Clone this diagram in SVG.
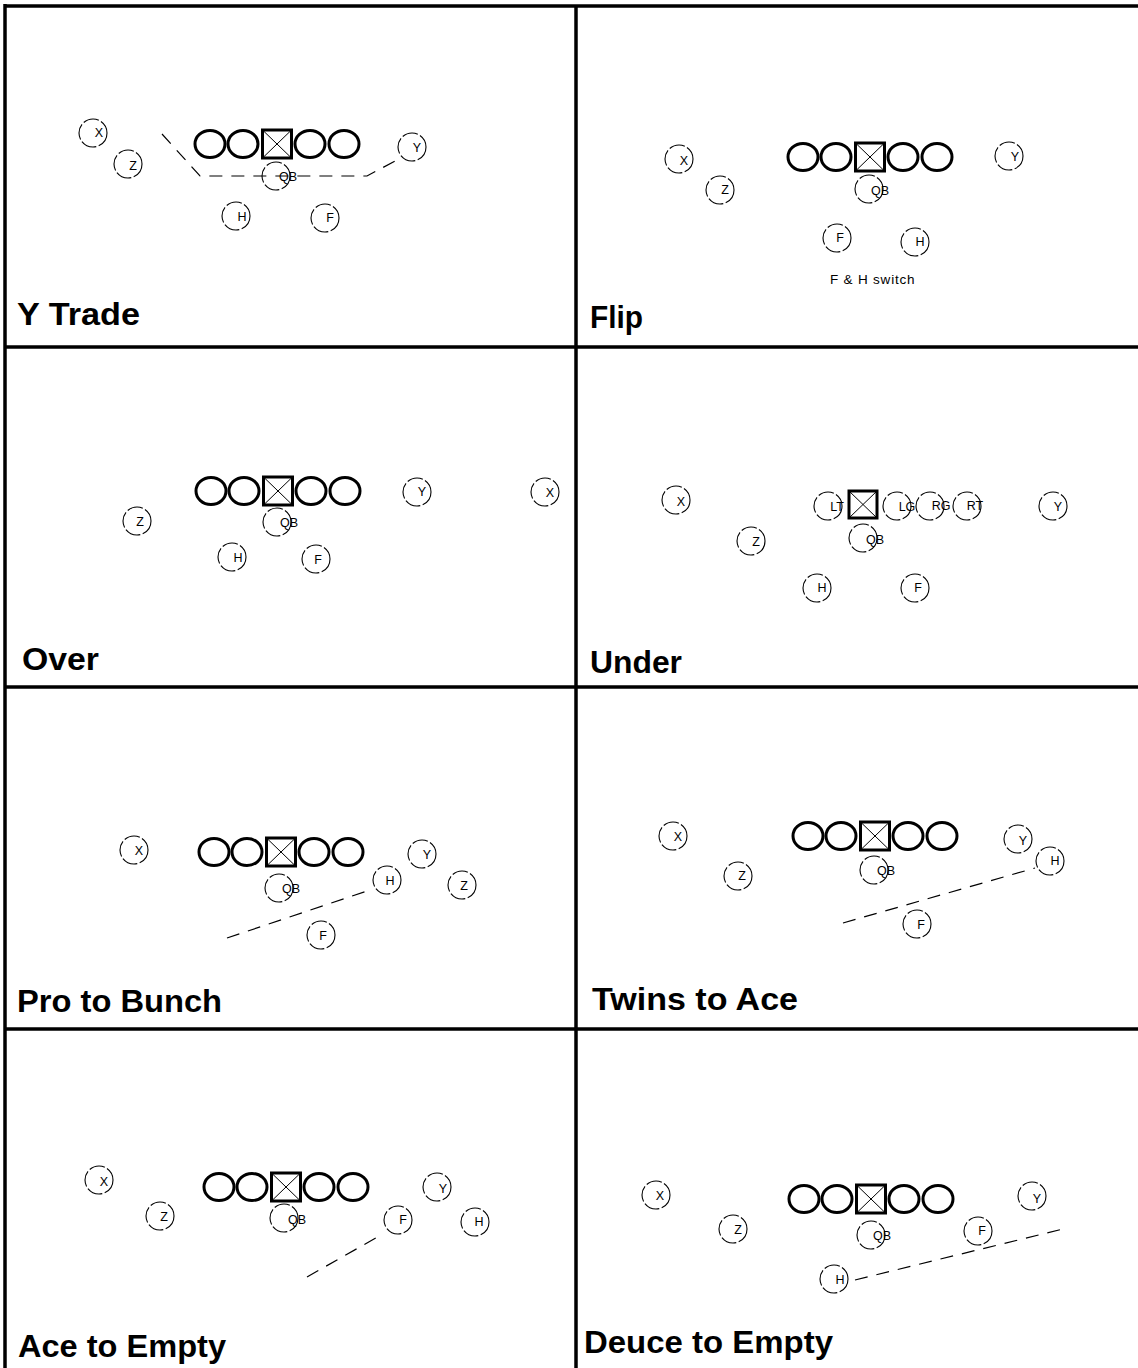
<svg xmlns="http://www.w3.org/2000/svg" width="1138" height="1368" viewBox="0 0 1138 1368">
<style>
.grid{stroke:#000;stroke-width:3.5;fill:none}
.ol{fill:none;stroke:#000;stroke-width:3}
.sq{fill:none;stroke:#000;stroke-width:3}
.sx{stroke:#000;stroke-width:1;fill:none}
.p{fill:none;stroke:#000;stroke-width:1.1;stroke-dasharray:16 2.5}
.t{font-family:"Liberation Sans",Arial,sans-serif;font-size:12.5px;fill:#000;text-anchor:middle;dominant-baseline:central}
.lbl{font-family:"Liberation Sans",Arial,sans-serif;font-size:31px;font-weight:bold;fill:#000}
.note{font-family:"Liberation Sans",Arial,sans-serif;font-size:13.5px;fill:#000;letter-spacing:0.8px}
.route{fill:none;stroke:#000;stroke-width:1.2;stroke-dasharray:13 9}
</style>
<defs>
<g id="line5">
<ellipse class="ol" cx="-67" cy="0" rx="15" ry="13.5"/>
<ellipse class="ol" cx="-34" cy="0" rx="15" ry="13.5"/>
<rect class="sq" x="-14.5" y="-14" width="29" height="28"/>
<path class="sx" d="M-14.5,-14 L14.5,14 M14.5,-14 L-14.5,14"/>
<ellipse class="ol" cx="33" cy="0" rx="15" ry="13.5"/>
<ellipse class="ol" cx="67" cy="0" rx="15" ry="13.5"/>
</g>
</defs>
<rect width="1138" height="1368" fill="#fff"/>
<g id="grid">
<line class="grid" x1="5" y1="6" x2="1138" y2="6" stroke-width="4"/>
<line class="grid" x1="5" y1="4" x2="5" y2="1368"/>
<line class="grid" x1="576" y1="6" x2="576" y2="1368"/>
<line class="grid" x1="5" y1="347" x2="1138" y2="347"/>
<line class="grid" x1="5" y1="687" x2="1138" y2="687"/>
<line class="grid" x1="5" y1="1029" x2="1138" y2="1029"/>
</g>

<g id="connectors">
<polyline class="route" points="162,134 200,176 367,176 397,160"/>
<line class="route" x1="227" y1="938" x2="373" y2="889"/>
<line class="route" x1="843" y1="923" x2="1035" y2="868"/>
<line class="route" x1="307" y1="1277" x2="381" y2="1235"/>
<line class="route" x1="855" y1="1280" x2="1067" y2="1228"/>
</g>

<g id="panel-ytrade">
<g id="yt-line"><use href="#line5" x="277" y="144"/></g>
<g id="yt-x"><circle class="p" cx="93" cy="133" r="14"/><text class="t" x="99" y="133">X</text></g>
<g id="yt-z"><circle class="p" cx="128" cy="164" r="14"/><text class="t" x="133" y="166">Z</text></g>
<g id="yt-qb"><circle class="p" cx="276" cy="176" r="14"/><text class="t" x="288" y="177">QB</text></g>
<g id="yt-h"><circle class="p" cx="236" cy="216" r="14"/><text class="t" x="242" y="217">H</text></g>
<g id="yt-f"><circle class="p" cx="325" cy="218" r="14"/><text class="t" x="330" y="218">F</text></g>
<g id="yt-y"><circle class="p" cx="412" cy="147" r="14"/><text class="t" x="417" y="148">Y</text></g>
<text class="lbl" x="17" y="325" textLength="123" lengthAdjust="spacingAndGlyphs">Y Trade</text>
</g>

<g id="panel-flip">
<g id="fl-line"><use href="#line5" x="870" y="157"/></g>
<g id="fl-x"><circle class="p" cx="679" cy="159" r="14"/><text class="t" x="684" y="161">X</text></g>
<g id="fl-z"><circle class="p" cx="720" cy="190" r="14"/><text class="t" x="725" y="190">Z</text></g>
<g id="fl-qb"><circle class="p" cx="869" cy="189" r="14"/><text class="t" x="880" y="191">QB</text></g>
<g id="fl-f"><circle class="p" cx="837" cy="238" r="14"/><text class="t" x="840" y="238">F</text></g>
<g id="fl-h"><circle class="p" cx="915" cy="242" r="14"/><text class="t" x="920" y="242">H</text></g>
<g id="fl-y"><circle class="p" cx="1009" cy="156" r="14"/><text class="t" x="1015" y="157">Y</text></g>
<text class="note" x="830" y="284">F &amp; H switch</text>
<text class="lbl" x="590" y="328" textLength="53" lengthAdjust="spacingAndGlyphs">Flip</text>
</g>

<g id="panel-over">
<g id="ov-line"><use href="#line5" x="278" y="491"/></g>
<g id="ov-z"><circle class="p" cx="137" cy="521" r="14"/><text class="t" x="140" y="522">Z</text></g>
<g id="ov-qb"><circle class="p" cx="277" cy="522" r="14"/><text class="t" x="289" y="523">QB</text></g>
<g id="ov-h"><circle class="p" cx="232" cy="557" r="14"/><text class="t" x="238" y="558">H</text></g>
<g id="ov-f"><circle class="p" cx="316" cy="559" r="14"/><text class="t" x="318" y="560">F</text></g>
<g id="ov-y"><circle class="p" cx="417" cy="492" r="14"/><text class="t" x="422" y="492">Y</text></g>
<g id="ov-x"><circle class="p" cx="545" cy="492" r="14"/><text class="t" x="550" y="493">X</text></g>
<text class="lbl" x="22" y="670" textLength="77" lengthAdjust="spacingAndGlyphs">Over</text>
</g>

<g id="panel-under">
<g id="un-x"><circle class="p" cx="676" cy="500" r="14"/><text class="t" x="681" y="502">X</text></g>
<g id="un-lt"><circle class="p" cx="828" cy="506" r="14"/><text class="t" x="837" y="507">LT</text></g>
<g id="un-c"><rect class="sq" x="849" y="491" width="28" height="27"/><path class="sx" d="M849,491 L877,518 M877,491 L849,518"/></g>
<g id="un-lg"><circle class="p" cx="897" cy="506" r="14"/><text class="t" x="907" y="507">LG</text></g>
<g id="un-rg"><circle class="p" cx="930" cy="506" r="14"/><text class="t" x="941" y="506">RG</text></g>
<g id="un-rt"><circle class="p" cx="967" cy="506" r="14"/><text class="t" x="975" y="506">RT</text></g>
<g id="un-y"><circle class="p" cx="1053" cy="506" r="14"/><text class="t" x="1058" y="507">Y</text></g>
<g id="un-z"><circle class="p" cx="751" cy="541" r="14"/><text class="t" x="756" y="542">Z</text></g>
<g id="un-qb"><circle class="p" cx="863" cy="538" r="14"/><text class="t" x="875" y="540">QB</text></g>
<g id="un-h"><circle class="p" cx="817" cy="588" r="14"/><text class="t" x="822" y="588">H</text></g>
<g id="un-f"><circle class="p" cx="915" cy="588" r="14"/><text class="t" x="918" y="588">F</text></g>
<text class="lbl" x="590" y="673" textLength="92" lengthAdjust="spacingAndGlyphs">Under</text>
</g>

<g id="panel-pro-bunch">
<g id="pb-line"><use href="#line5" x="281" y="852"/></g>
<g id="pb-x"><circle class="p" cx="134" cy="850" r="14"/><text class="t" x="139" y="851">X</text></g>
<g id="pb-qb"><circle class="p" cx="279" cy="888" r="14"/><text class="t" x="291" y="889">QB</text></g>
<g id="pb-h"><circle class="p" cx="387" cy="880" r="14"/><text class="t" x="390" y="881">H</text></g>
<g id="pb-y"><circle class="p" cx="422" cy="854" r="14"/><text class="t" x="427" y="855">Y</text></g>
<g id="pb-z"><circle class="p" cx="462" cy="885" r="14"/><text class="t" x="464" y="886">Z</text></g>
<g id="pb-f"><circle class="p" cx="321" cy="935" r="14"/><text class="t" x="323" y="936">F</text></g>
<text class="lbl" x="17" y="1012" textLength="205" lengthAdjust="spacingAndGlyphs">Pro to Bunch</text>
</g>

<g id="panel-twins-ace">
<g id="ta-line"><use href="#line5" x="875" y="836"/></g>
<g id="ta-x"><circle class="p" cx="673" cy="836" r="14"/><text class="t" x="678" y="837">X</text></g>
<g id="ta-z"><circle class="p" cx="738" cy="876" r="14"/><text class="t" x="742" y="876">Z</text></g>
<g id="ta-qb"><circle class="p" cx="874" cy="870" r="14"/><text class="t" x="886" y="871">QB</text></g>
<g id="ta-f"><circle class="p" cx="917" cy="924" r="14"/><text class="t" x="921" y="925">F</text></g>
<g id="ta-y"><circle class="p" cx="1018" cy="839" r="14"/><text class="t" x="1023" y="841">Y</text></g>
<g id="ta-h"><circle class="p" cx="1050" cy="861" r="14"/><text class="t" x="1055" y="861">H</text></g>
<text class="lbl" x="592" y="1010" textLength="206" lengthAdjust="spacingAndGlyphs">Twins to Ace</text>
</g>

<g id="panel-ace-empty">
<g id="ae-line"><use href="#line5" x="286" y="1187"/></g>
<g id="ae-x"><circle class="p" cx="99" cy="1180" r="14"/><text class="t" x="104" y="1182">X</text></g>
<g id="ae-z"><circle class="p" cx="160" cy="1216" r="14"/><text class="t" x="164" y="1217">Z</text></g>
<g id="ae-qb"><circle class="p" cx="284" cy="1218" r="14"/><text class="t" x="297" y="1220">QB</text></g>
<g id="ae-f"><circle class="p" cx="398" cy="1220" r="14"/><text class="t" x="403" y="1220">F</text></g>
<g id="ae-y"><circle class="p" cx="437" cy="1187" r="14"/><text class="t" x="443" y="1189">Y</text></g>
<g id="ae-h"><circle class="p" cx="475" cy="1222" r="14"/><text class="t" x="479" y="1222">H</text></g>
<text class="lbl" x="18" y="1357" textLength="208" lengthAdjust="spacingAndGlyphs">Ace to Empty</text>
</g>

<g id="panel-deuce-empty">
<g id="de-line"><use href="#line5" x="871" y="1199"/></g>
<g id="de-x"><circle class="p" cx="656" cy="1195" r="14"/><text class="t" x="660" y="1196">X</text></g>
<g id="de-z"><circle class="p" cx="733" cy="1229" r="14"/><text class="t" x="738" y="1230">Z</text></g>
<g id="de-qb"><circle class="p" cx="871" cy="1235" r="14"/><text class="t" x="882" y="1236">QB</text></g>
<g id="de-f"><circle class="p" cx="978" cy="1231" r="14"/><text class="t" x="982" y="1231">F</text></g>
<g id="de-y"><circle class="p" cx="1032" cy="1196" r="14"/><text class="t" x="1037" y="1199">Y</text></g>
<g id="de-h"><circle class="p" cx="834" cy="1279" r="14"/><text class="t" x="840" y="1280">H</text></g>
<text class="lbl" x="584" y="1353" textLength="249" lengthAdjust="spacingAndGlyphs">Deuce to Empty</text>
</g>
</svg>
